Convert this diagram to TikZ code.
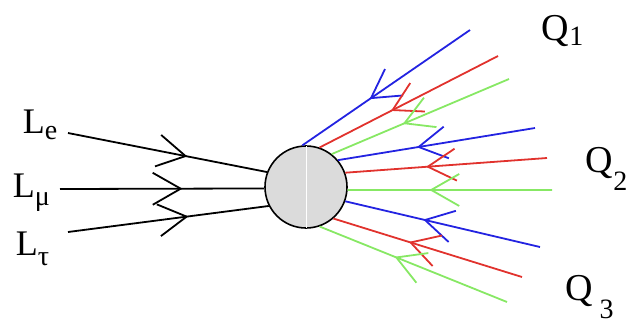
\documentclass[tikz,border=0pt]{standalone}
\usepackage{fontspec}
\setmainfont{Liberation Serif}
\usetikzlibrary{arrows.meta,decorations.markings}
\definecolor{qblue}{RGB}{35,35,225}
\definecolor{qred}{RGB}{225,50,45}
\definecolor{qgreen}{RGB}{135,232,100}
\newcommand\lsub[2]{\raisebox{#1}{\fontsize{14}{14}\selectfont #2}}
\tikzset{
  flow/.style={postaction={decorate},
    decoration={markings,mark=at position 0.6 with {\arrow{Straight Barb[length=14pt,width=16pt]}}}},
  lbl/.style={anchor=base west,inner sep=0pt,font=\fontsize{18}{20}\selectfont},
  qlbl/.style={anchor=base west,inner sep=0pt,font=\fontsize{19}{22}\selectfont}
}
\begin{document}
\begin{tikzpicture}[x=0.5pt,y=-0.5pt,line width=0.9pt]
\useasboundingbox (0,0) rectangle (631,322);
% the blob
\node[circle,draw,line width=0.8pt,fill=gray!28,minimum size=41pt,inner sep=0pt] (blob) at (306,187) {};
\draw[white,line width=0.5pt] ([yshift=-0.6pt]blob.north) -- ([yshift=0.6pt]blob.south);
% lepton ends
\coordinate (le) at (68,133);
\coordinate (lmu) at (60,189);
\coordinate (ltau) at (68,232);
\draw[flow] (le) -- (blob.159);
\draw[flow] (lmu) -- (blob.182);
\draw[flow] (ltau) -- (blob.207);
% quark ends
\coordinate (qa1) at (470,30);
\coordinate (qa2) at (498,56);
\coordinate (qa3) at (509,79);
\coordinate (qb1) at (535,128);
\coordinate (qb2) at (547,158);
\coordinate (qb3) at (552,190);
\coordinate (qc1) at (540,247);
\coordinate (qc2) at (522,277);
\coordinate (qc3) at (507,302);
\draw[flow,qblue] (qa1) -- (blob.95);
\draw[flow,qred] (qa2) -- (blob.71);
\draw[flow,qgreen] (qa3) -- (blob.52);
\draw[flow,qblue] (qb1) -- (blob.40);
\draw[flow,qred] (qb2) -- (blob.20);
\draw[flow,qgreen] (qb3) -- (blob.-4);
\draw[flow,qblue] (qc1) -- (blob.-20);
\draw[flow,qred] (qc2) -- (blob.-49);
\draw[flow,qgreen] (qc3) -- (blob.-71);
% labels
\node[lbl] (tle) at (22,133) {L\lsub{-3pt}{e}};
\node[lbl] (tlmu) at (12,197) {L\lsub{-4pt}{μ}};
\node[lbl] (tltau) at (15,255) {L\lsub{-5pt}{τ}};
\node[qlbl] (tq1) at (541,40) {Q\lsub{-2.5pt}{1}};
\node[qlbl] (tq2) at (585,172) {Q\lsub{-9pt}{2}};
\node[qlbl] (tq3) at (565,300) {Q\,\lsub{-9pt}{3}};
\end{tikzpicture}
\end{document}
